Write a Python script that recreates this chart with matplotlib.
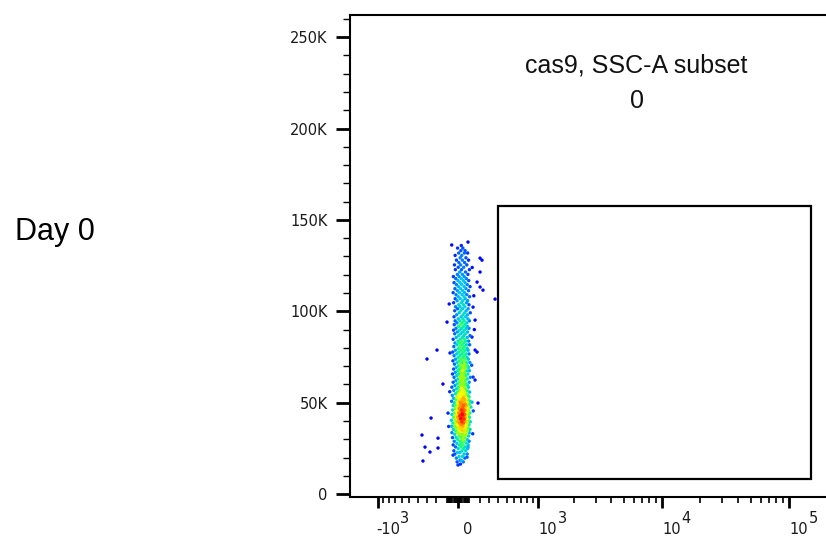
import numpy as np
import matplotlib.pyplot as plt
from matplotlib.colors import LinearSegmentedColormap
from matplotlib.patches import Rectangle

# ---- data (x in channel units, y in thousands) ----
# main population, one entry per row: (SSC-A in K, [comp-x values])
core_rows = [
    (16.4, [22]), (17.6, [48, -8]), (18.5, [30]), (19.7, [-15, 62]),
    (20.6, [10, 41]), (21.9, [-28, 55, 84]), (22.8, [18, -4]),
    (23.7, [36, 70, -38]), (24.9, [2, 50, 88]), (25.8, [-22, 27, 64]),
    (26.9, [-44, 12, 46, 92]), (27.8, [-10, 34, 78]), (28.9, [-34, 20, 57, 101]),
    (29.8, [-2, 42, 85]), (30.9, [-50, -18, 28, 66]), (31.8, [8, 51, 96]),
    (32.7, [-30, 16, 40, 74]), (33.6, [-55, -6, 60, 104]), (34.5, [-20, 24, 48, 86]),
    (35.4, [-42, 4, 35, 70, 110]), (36.3, [-14, 20, 55, 92]),
    (37.1, [-58, -30, 10, 44, 78]), (38.0, [-6, 28, 62, 100]),
    (38.8, [-46, -20, 16, 50, 86]), (39.6, [-2, 34, 70, 112]),
    (40.4, [-60, -26, 8, 42, 60, 95]), (41.2, [-12, 22, 54, 82]),
    (42.0, [-40, -4, 30, 66, 104]), (42.8, [-22, 14, 46, 76]),
    (43.6, [-56, -10, 24, 38, 62, 98]), (44.4, [-30, 6, 40, 72, 108]),
    (45.2, [-16, 18, 52, 88]), (46.0, [-50, -2, 32, 64, 96]),
    (46.8, [-26, 10, 44, 80]), (47.6, [-8, 26, 58, 92, 118]),
    (48.4, [-44, -18, 16, 48, 74]), (49.2, [0, 36, 66, 102]),
    (50.0, [-34, -6, 22, 54, 86]), (50.8, [-58, 10, 40, 70, 110]),
    (51.6, [-20, 28, 60, 94]), (52.4, [-40, 2, 46, 80]),
    (53.2, [-10, 18, 52, 100]), (54.0, [-52, 30, 64, 90]),
    (54.9, [-24, 8, 42, 76]), (55.8, [-4, 24, 58, 106]),
    (56.7, [-38, 14, 48, 84]), (57.6, [-14, 34, 68]), (58.5, [-56, 4, 44, 96]),
    (59.4, [-28, 22, 60, 88]), (60.3, [-8, 38, 74]), (61.2, [-44, 12, 50, 102]),
    (62.1, [-20, 28, 66]), (63.0, [0, 42, 84]), (63.9, [-36, 18, 56, 112]),
    (64.8, [-12, 32, 72]), (65.7, [-50, 6, 46, 90]), (66.6, [-24, 24, 62]),
    (67.5, [-2, 40, 80, 104]), (68.4, [-40, 14, 54]), (69.3, [-16, 30, 70, 96]),
    (70.2, [4, 48, 86]), (71.1, [-32, 20, 60]), (72.0, [-8, 36, 78, 108]),
    (72.9, [-46, 10, 52]), (73.8, [-22, 28, 68, 94]), (74.7, [0, 44, 82]),
    (75.7, [-36, 16, 58]), (76.7, [-12, 34, 76, 100]), (77.7, [-48, 6, 50]),
    (78.7, [-24, 26, 66, 92]), (79.7, [2, 44, 84]), (80.7, [-38, 18, 58]),
    (81.7, [-10, 36, 78, 106]), (82.7, [-28, 12, 52]), (83.7, [0, 30, 70, 96]),
    (84.7, [-44, 20, 60]), (85.7, [-16, 40, 84]), (86.7, [6, 54, 110]),
    (87.7, [-30, 24, 66]), (88.7, [-6, 42, 88]), (89.7, [-40, 14, 58]),
    (90.7, [-18, 32, 76, 100]), (91.7, [4, 50, 86]), (92.7, [-34, 22, 64]),
    (93.7, [-10, 38, 80]), (94.8, [-26, 16, 56, 104]), (95.9, [2, 44, 90]),
    (97.0, [-36, 28, 70]), (98.1, [-12, 46, 86]), (99.2, [10, 60, 112]),
    (100.3, [-30, 24, 74]), (101.4, [-4, 40, 92]), (102.5, [-22, 18, 62]),
    (103.6, [6, 50, 100]), (104.7, [-40, 30, 78]), (105.8, [-8, 44, 88]),
    (106.9, [-26, 20, 66]), (108.0, [2, 54, 106]), (109.1, [-18, 36, 80]),
    (110.2, [-44, 12, 60]), (111.3, [-6, 42, 96]), (112.4, [-28, 24, 72]),
    (113.5, [4, 56, 110]), (114.6, [-14, 34, 84]), (115.7, [-36, 18, 64]),
    (116.8, [0, 48, 98]), (117.9, [-20, 30, 76]), (119.0, [-42, 10, 56]),
    (120.2, [-6, 40, 90]), (121.5, [16, 68]), (122.8, [-24, 32, 104]),
    (124.1, [2, 52]), (125.4, [-32, 24, 80]), (126.7, [8, 60]),
    (128.0, [-14, 40, 96]), (129.3, [20, 72]), (130.6, [-26, 34]),
    (131.9, [6, 58, 88]), (133.2, [26, 64]), (134.6, [-4, 44]), (136.0, [30]),
]

# scattered events away from the main column
stray_x = [-57, 91, 205, 224, 205, 176, 205, 234, 361, 138, -100, 157, 128,
           157, 176, -195, -296, -73, 138, 157, -138, 185, 128, -254, -91,
           -350, -185, -317, -265, -185, -339, 91, 82, 0, 18, -45,
           130, 145, -80, 150, 125, -75, 140, -85, 135]
stray_y = [136.3, 137.9, 129.1, 128.0, 121.5, 116.0, 113.3, 111.6, 106.7,
           102.3, 94.1, 95.2, 85.9, 78.8, 77.7, 78.8, 73.9, 77.2, 64.0, 62.4,
           60.2, 49.8, 50.3, 41.6, 44.3, 32.3, 30.6, 25.7, 23.0, 25.2, 18.1,
           25.7, 20.2, 15.9, 18.6, 21.3,
           124.0, 108.5, 104.0, 90.0, 70.5, 56.0, 45.5, 37.0, 33.0]

# gate: x from/to, y from/to (K)
gate_x = [400, 150000]
gate_y = [8.0, 157.5]

x_major = [-1000, 0, 1000, 10000, 100000]
x_base = ['-10', '0', '10', '10', '10']
x_exp = ['3', '', '3', '4', '5']
y_major = [0, 50000, 100000, 150000, 200000, 250000]
y_labels = ['0', '50K', '100K', '150K', '200K', '250K']

title_line1 = 'cas9, SSC-A subset'
title_line2 = '0'
row_label = 'Day 0'

XLIM = (-1733, 262144)
YLIM = (-1600, 262144)

# ---- figure ----
W, H = 826, 537
fig = plt.figure(figsize=(W / 100, H / 100), dpi=100)
ax = fig.add_axes([350 / W, (H - 497) / H, (842 - 350) / W, (497 - 15) / H])

ax.set_xscale('function', functions=(lambda v: np.arcsinh(v / 500.0),
                                     lambda u: 500.0 * np.sinh(u)))

# ticks first (set_ticks may widen the view), limits afterwards
ax.set_yticks(y_major)
ax.set_yticklabels(y_labels, fontsize=10.5, color='#1a1a1a')
ax.set_yticks([v * 10000 for v in range(27) if v % 5], minor=True)
ax.tick_params(axis='y', which='major', length=10, width=2, pad=6)
ax.tick_params(axis='y', which='minor', length=5, width=1)

minor_x = []
for n in range(1, 6):
    for k in range(1, 10):
        v = k * 10 ** n
        if v not in x_major and v < XLIM[1]:
            minor_x.append(v)
        if v < 1000:
            minor_x.append(-v)
ax.set_xticks(x_major)
ax.set_xticklabels([])
ax.set_xticks(minor_x, minor=True)
ax.tick_params(axis='x', which='major', length=8, width=2)
ax.tick_params(axis='x', which='minor', length=4.3, width=1.2)

ax.set_xlim(*XLIM)
ax.set_ylim(*YLIM)

core_x = np.array([x for _, xs in core_rows for x in xs], dtype=float)
core_y = np.array([y for y, xs in core_rows for _ in xs], dtype=float)
px = np.concatenate([core_x, np.array(stray_x, float)])
py = np.concatenate([core_y, np.array(stray_y, float)]) * 1000

# density colouring from neighbour counts in screen space
disp = ax.transData.transform(np.column_stack([px, py]))
d2 = ((disp[:, None, :] - disp[None, :, :]) ** 2).sum(-1)
dens = (d2 < 7.0 ** 2).sum(1).astype(float)
dens = (dens - dens.min()) / (dens.max() - dens.min())
dens = dens ** 1.35
order = np.argsort(dens)

cmap = LinearSegmentedColormap.from_list(
    'pseudo', ['#0000ff', '#0050ff', '#00c0ff', '#00ff90', '#a0ff00',
               '#ffff00', '#ff9000', '#ff0000'])
ax.scatter(px[order], py[order], c=dens[order], cmap=cmap, vmin=0, vmax=1,
           s=6, marker='o', linewidths=0, zorder=2)

ax.add_patch(Rectangle((gate_x[0], gate_y[0] * 1000),
                       gate_x[1] - gate_x[0], (gate_y[1] - gate_y[0]) * 1000,
                       fill=False, edgecolor='black', linewidth=1.6, zorder=3))
ax.set_xlim(*XLIM)
ax.set_ylim(*YLIM)

# axes styling
for side in ['left', 'bottom', 'top']:
    ax.spines[side].set_linewidth(1.5)
ax.spines['right'].set_visible(False)

for v, base, ex in zip(x_major, x_base, x_exp):
    ax.annotate(base, xy=(v, 0), xycoords=('data', 'axes fraction'),
                xytext=(10, -25), textcoords='offset pixels',
                ha='center', va='top', fontsize=10.5, color='#1a1a1a',
                annotation_clip=False)
    if ex:
        shift = 22 if base.startswith('-') else 20
        ax.annotate(ex, xy=(v, 0), xycoords=('data', 'axes fraction'),
                    xytext=(shift, -14), textcoords='offset pixels',
                    ha='left', va='top', fontsize=10.5, color='#1a1a1a',
                    annotation_clip=False)

fig.text(636 / W, 1 - 73 / H, title_line1, ha='center', va='baseline',
         fontsize=18, family='Liberation Sans', color='#111111')
fig.text(637 / W, 1 - 108 / H, title_line2, ha='center', va='baseline',
         fontsize=18, family='Liberation Sans', color='#111111')
fig.text(15 / W, 1 - 240 / H, row_label, ha='left', va='baseline',
         fontsize=22, family='Liberation Sans', color='black')

fig.savefig('out.png', dpi=100)
